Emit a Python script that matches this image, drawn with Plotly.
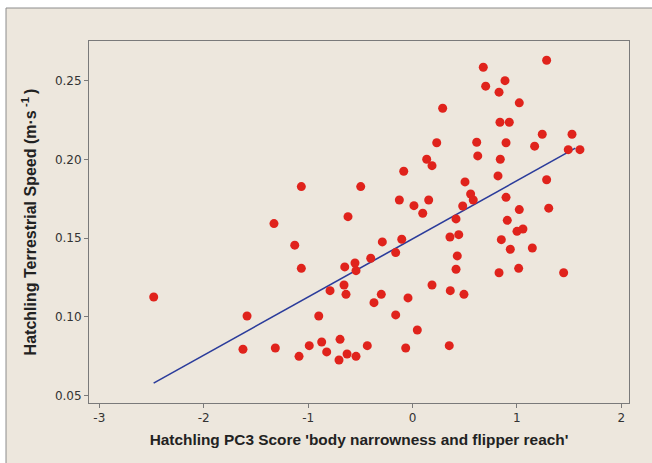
import plotly.graph_objects as go

# PC3 score (x) and terrestrial speed (y)
pc3_score = [
    -2.479, -1.624, -1.585, -1.327, -1.314, -1.128, -1.087, -1.065, -1.065, -0.989,
    -0.898, -0.870, -0.822, -0.790, -0.704, -0.694, -0.656, -0.649, -0.637, -0.627,
    -0.618, -0.551, -0.541, -0.541, -0.496, -0.433, -0.400, -0.369, -0.299, -0.289,
    -0.161, -0.161, -0.126, -0.103, -0.084, -0.065, -0.043, 0.014, 0.046, 0.098,
    0.136, 0.155, 0.187, 0.187, 0.232, 0.289, 0.352, 0.359, 0.362, 0.417,
    0.417, 0.429, 0.443, 0.481, 0.493, 0.503, 0.557, 0.582, 0.615, 0.625,
    0.678, 0.701, 0.819, 0.829, 0.829, 0.838, 0.841, 0.851, 0.886, 0.896,
    0.896, 0.908, 0.927, 0.937, 1.001, 1.017, 1.023, 1.023, 1.058, 1.148,
    1.170, 1.243, 1.285, 1.285, 1.305, 1.448, 1.492, 1.528, 1.604,
]
speed = [
    0.1127, 0.0795, 0.1006, 0.1593, 0.0803, 0.1456, 0.0750, 0.1828, 0.1309, 0.0818,
    0.1006, 0.0841, 0.0778, 0.1167, 0.0727, 0.0858, 0.1203, 0.1318, 0.1144, 0.0765,
    0.1637, 0.1343, 0.1294, 0.0750, 0.1828, 0.0818, 0.1373, 0.1091, 0.1144, 0.1477,
    0.1409, 0.1013, 0.1743, 0.1494, 0.1926, 0.0803, 0.1121, 0.1707, 0.0917, 0.1659,
    0.2002, 0.1743, 0.1961, 0.1203, 0.2107, 0.2326, 0.0818, 0.1508, 0.1167, 0.1623,
    0.1303, 0.1388, 0.1523, 0.1705, 0.1144, 0.1858, 0.1781, 0.1743, 0.2110, 0.2023,
    0.2586, 0.2466, 0.1896, 0.2428, 0.1281, 0.2237, 0.2002, 0.1491, 0.2501, 0.2107,
    0.1760, 0.1614, 0.2237, 0.1430, 0.1544, 0.1309, 0.2360, 0.1682, 0.1559, 0.1438,
    0.2085, 0.2161, 0.2631, 0.1872, 0.1691, 0.1281, 0.2063, 0.2161, 0.2063,
]

# fitted regression line
fit_slope = 0.03694
fit_intercept = 0.1496
fit_x = [-2.48, 1.56]
fit_y = [fit_intercept + fit_slope * v for v in fit_x]

x_ticks = [-3, -2, -1, 0, 1, 2]
x_tick_labels = ["-3", "-2", "-1", "0", "1", "2"]
y_ticks = [0.05, 0.10, 0.15, 0.20, 0.25]
y_tick_labels = ["0.05", "0.10", "0.15", "0.20", "0.25"]

x_title = "Hatchling PC3 Score 'body narrowness and flipper reach'"
y_title = "Hatchling Terrestrial Speed (m·s\u2009<sup>-1</sup>\u2009)"

fig = go.Figure()
fig.add_trace(go.Scatter(
    x=fit_x, y=fit_y, mode="lines",
    line=dict(color="#2B3C9B", width=1.6),
    hoverinfo="skip", showlegend=False,
))
fig.add_trace(go.Scatter(
    x=pc3_score, y=speed, mode="markers",
    marker=dict(color="#E0231C", size=9, line=dict(width=0)),
    showlegend=False,
))

W, H = 652, 463
ml, mr, mt, mb = 89, 23, 41, 60
pw, ph = W - ml - mr, H - mt - mb


def px_to_paper_x(p):
    return (p - ml) / pw


def px_to_paper_y(p):
    return (H - mb - p) / ph


# beige outer panel with a thin grey frame
fig.add_shape(
    type="rect", xref="paper", yref="paper", layer="below",
    x0=px_to_paper_x(6), x1=px_to_paper_x(W + 20),
    y0=px_to_paper_y(H + 20), y1=px_to_paper_y(8),
    fillcolor="#EDE7DD", line=dict(color="#8C8C8C", width=1),
)

axis_common = dict(
    showgrid=False, zeroline=False, showline=True, mirror=True,
    linecolor="#7A7A7A", linewidth=1,
    ticks="outside", ticklen=4, tickcolor="#7A7A7A", tickwidth=1,
    tickfont=dict(family="DejaVu Sans", size=12, color="#333333"),
)

fig.update_layout(
    width=W, height=H,
    margin=dict(l=ml, r=mr, t=mt, b=mb, autoexpand=False),
    paper_bgcolor="white", plot_bgcolor="white",
    xaxis=dict(
        range=[-3.099, 2.074], tickvals=x_ticks, ticktext=x_tick_labels,
        title=dict(text=x_title, standoff=9,
                   font=dict(family="Liberation Sans", size=15.4, color="#222222", weight="bold")),
        **axis_common,
    ),
    yaxis=dict(
        range=[0.04536, 0.2753], tickvals=y_ticks, ticktext=y_tick_labels,
        title=dict(text=y_title, standoff=14,
                   font=dict(family="Liberation Sans", size=16, color="#222222", weight="bold")),
        **axis_common,
    ),
)

fig.write_html("out.html")
